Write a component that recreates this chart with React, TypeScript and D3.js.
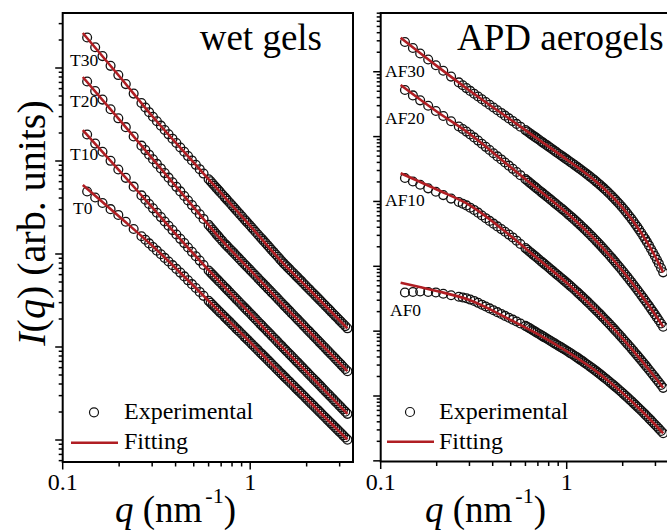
import React from 'react';
import * as d3 from 'd3';

// Scattering vector grid of the experimental points (nm^-1)
const Q_EXP = [0.135, 0.149, 0.163, 0.18, 0.198, 0.217, 0.239, 0.263,
  0.276, 0.289, 0.303, 0.318, 0.334, 0.35, 0.367, 0.385, 0.404, 0.424, 0.445, 0.466, 0.489, 0.513, 0.538, 0.564,
  0.6,
  0.615, 0.63, 0.645, 0.66, 0.675, 0.69, 0.71, 0.73, 0.745, 0.76, 0.78, 0.8, 0.82, 0.84, 0.86, 0.88, 0.905, 0.93, 0.95, 0.97,
  0.995, 1.02, 1.045, 1.07, 1.1, 1.13, 1.155, 1.18, 1.21, 1.24, 1.27, 1.3, 1.335, 1.37, 1.405, 1.44, 1.475, 1.51, 1.545, 1.58,
  1.62, 1.66, 1.705, 1.75, 1.79, 1.83, 1.875, 1.92, 1.97, 2.02, 2.07, 2.12, 2.175, 2.23, 2.285, 2.34, 2.395, 2.45, 2.515, 2.58,
  2.64, 2.7, 2.77, 2.84, 2.91, 2.98, 3.055, 3.13, 3.215, 3.3];
// q values of the fitted curves (nm^-1)
const Q_FIT = [0.128, 0.2, 0.3, 0.5, 0.7, 1, 1.5, 2, 2.5, 3, 3.3];

// Wet gels: log10 I(q) (arb. units)
const T30_EXP = [4.328, 4.223, 4.128, 4.023, 3.924, 3.827, 3.725, 3.624,
  3.575, 3.525, 3.476, 3.427, 3.380, 3.333, 3.287, 3.240, 3.193, 3.145, 3.099, 3.053, 3.006, 2.959, 2.912, 2.865,
  2.804,
  2.781, 2.757, 2.734, 2.711, 2.690, 2.668, 2.640, 2.612, 2.593, 2.573, 2.548, 2.523, 2.499, 2.474, 2.452, 2.429, 2.402, 2.374, 2.354, 2.333,
  2.309, 2.284, 2.261, 2.237, 2.210, 2.183, 2.162, 2.141, 2.117, 2.092, 2.069, 2.045, 2.020, 1.995, 1.970, 1.945, 1.922, 1.899, 1.879, 1.859,
  1.837, 1.815, 1.792, 1.768, 1.749, 1.729, 1.708, 1.686, 1.663, 1.640, 1.619, 1.597, 1.575, 1.552, 1.531, 1.510, 1.489, 1.468, 1.445, 1.422,
  1.402, 1.381, 1.358, 1.335, 1.314, 1.292, 1.270, 1.248, 1.225, 1.201];
const T20_EXP = [3.855, 3.752, 3.660, 3.557, 3.459, 3.364, 3.264, 3.165,
  3.117, 3.068, 3.019, 2.969, 2.920, 2.870, 2.821, 2.771, 2.722, 2.673, 2.624, 2.575, 2.526, 2.476, 2.427, 2.377,
  2.313,
  2.288, 2.263, 2.239, 2.214, 2.192, 2.169, 2.141, 2.113, 2.095, 2.077, 2.054, 2.031, 2.009, 1.986, 1.965, 1.943, 1.918, 1.893, 1.874, 1.855,
  1.832, 1.809, 1.788, 1.766, 1.741, 1.715, 1.696, 1.676, 1.654, 1.631, 1.610, 1.588, 1.565, 1.541, 1.518, 1.495, 1.473, 1.451, 1.431, 1.410,
  1.388, 1.365, 1.341, 1.317, 1.297, 1.277, 1.255, 1.233, 1.210, 1.186, 1.165, 1.143, 1.120, 1.097, 1.075, 1.053, 1.032, 1.011, 0.988, 0.964,
  0.943, 0.922, 0.900, 0.877, 0.855, 0.833, 0.811, 0.788, 0.764, 0.740];
const T10_EXP = [3.285, 3.187, 3.100, 3.002, 2.909, 2.819, 2.724, 2.630,
  2.584, 2.538, 2.491, 2.444, 2.397, 2.350, 2.304, 2.257, 2.210, 2.163, 2.117, 2.070, 2.023, 1.976, 1.929, 1.882,
  1.822,
  1.800, 1.778, 1.757, 1.736, 1.716, 1.696, 1.671, 1.645, 1.627, 1.609, 1.586, 1.562, 1.540, 1.518, 1.497, 1.476, 1.451, 1.426, 1.407, 1.388,
  1.366, 1.343, 1.321, 1.299, 1.274, 1.249, 1.230, 1.210, 1.188, 1.166, 1.145, 1.123, 1.100, 1.076, 1.053, 1.030, 1.009, 0.987, 0.967, 0.946,
  0.924, 0.902, 0.878, 0.854, 0.834, 0.814, 0.792, 0.770, 0.747, 0.724, 0.702, 0.680, 0.658, 0.635, 0.614, 0.592, 0.571, 0.549, 0.526, 0.503,
  0.483, 0.462, 0.439, 0.416, 0.395, 0.373, 0.351, 0.328, 0.305, 0.281];
const T0_EXP = [2.672, 2.607, 2.548, 2.482, 2.420, 2.347, 2.269, 2.191,
  2.153, 2.114, 2.075, 2.036, 1.997, 1.958, 1.919, 1.880, 1.840, 1.800, 1.759, 1.717, 1.676, 1.634, 1.592, 1.550,
  1.496,
  1.475, 1.453, 1.433, 1.412, 1.393, 1.373, 1.349, 1.324, 1.307, 1.289, 1.267, 1.244, 1.223, 1.201, 1.181, 1.161, 1.137, 1.112, 1.094, 1.076,
  1.054, 1.031, 1.011, 0.990, 0.966, 0.941, 0.923, 0.904, 0.883, 0.861, 0.840, 0.819, 0.796, 0.773, 0.751, 0.729, 0.708, 0.687, 0.668, 0.648,
  0.627, 0.605, 0.582, 0.558, 0.539, 0.520, 0.499, 0.478, 0.456, 0.433, 0.412, 0.391, 0.369, 0.347, 0.326, 0.305, 0.285, 0.264, 0.242, 0.219,
  0.199, 0.179, 0.157, 0.135, 0.114, 0.093, 0.072, 0.050, 0.027, 0.004];
const T30_FIT = [4.376, 3.914, 3.484, 2.982, 2.654, 2.303, 1.900, 1.648, 1.449, 1.285, 1.201];
const T20_FIT = [3.903, 3.448, 3.029, 2.501, 2.155, 1.827, 1.453, 1.197, 0.992, 0.827, 0.740];
const T10_FIT = [3.333, 2.900, 2.501, 2.000, 1.684, 1.360, 0.988, 0.733, 0.531, 0.366, 0.280];
const T0_FIT = [2.742, 2.403, 2.090, 1.656, 1.363, 1.051, 0.690, 0.444, 0.246, 0.088, 0.005];

// APD aerogels: log10 I(q) (arb. units)
const AF30_EXP = [5.459, 5.366, 5.282, 5.189, 5.100, 5.015, 4.925, 4.836,
  4.792, 4.748, 4.705, 4.661, 4.619, 4.576, 4.534, 4.491, 4.449, 4.406, 4.365, 4.323, 4.281, 4.239, 4.196, 4.153,
  4.100,
  4.078, 4.056, 4.035, 4.014, 3.995, 3.976, 3.951, 3.925, 3.908, 3.890, 3.868, 3.846, 3.824, 3.802, 3.781, 3.760, 3.736, 3.712, 3.694, 3.675,
  3.652, 3.631, 3.609, 3.589, 3.564, 3.540, 3.520, 3.500, 3.477, 3.454, 3.432, 3.409, 3.383, 3.357, 3.332, 3.306, 3.281, 3.256, 3.231, 3.205,
  3.177, 3.148, 3.115, 3.083, 3.054, 3.025, 2.992, 2.960, 2.923, 2.887, 2.850, 2.813, 2.772, 2.732, 2.690, 2.649, 2.608, 2.566, 2.517, 2.467,
  2.422, 2.376, 2.322, 2.267, 2.213, 2.159, 2.100, 2.041, 1.974, 1.907];
const AF20_EXP = [4.719, 4.635, 4.559, 4.476, 4.395, 4.318, 4.237, 4.156,
  4.117, 4.077, 4.033, 3.988, 3.939, 3.890, 3.842, 3.793, 3.744, 3.695, 3.648, 3.600, 3.552, 3.503, 3.454, 3.405,
  3.344,
  3.319, 3.294, 3.270, 3.246, 3.224, 3.202, 3.173, 3.144, 3.124, 3.104, 3.079, 3.053, 3.028, 3.003, 2.979, 2.955, 2.927, 2.899, 2.878, 2.857,
  2.830, 2.801, 2.775, 2.750, 2.719, 2.689, 2.664, 2.639, 2.610, 2.580, 2.552, 2.523, 2.490, 2.457, 2.425, 2.393, 2.362, 2.331, 2.300, 2.269,
  2.235, 2.201, 2.163, 2.126, 2.093, 2.060, 2.024, 1.989, 1.950, 1.911, 1.873, 1.836, 1.795, 1.755, 1.716, 1.677, 1.638, 1.600, 1.556, 1.513,
  1.473, 1.434, 1.389, 1.344, 1.301, 1.258, 1.212, 1.168, 1.118, 1.069];
const AF10_EXP = [3.362, 3.307, 3.257, 3.202, 3.149, 3.098, 3.044, 2.991,
  2.965, 2.939, 2.904, 2.869, 2.827, 2.784, 2.742, 2.700, 2.658, 2.615, 2.574, 2.532, 2.489, 2.445, 2.395, 2.344,
  2.281,
  2.255, 2.229, 2.205, 2.180, 2.158, 2.135, 2.105, 2.075, 2.055, 2.034, 2.008, 1.981, 1.955, 1.929, 1.905, 1.880, 1.852, 1.823, 1.801, 1.779,
  1.752, 1.726, 1.699, 1.673, 1.642, 1.611, 1.586, 1.561, 1.532, 1.503, 1.475, 1.447, 1.415, 1.383, 1.352, 1.321, 1.291, 1.262, 1.232, 1.203,
  1.171, 1.139, 1.104, 1.069, 1.038, 1.008, 0.975, 0.943, 0.907, 0.872, 0.837, 0.803, 0.767, 0.731, 0.695, 0.660, 0.626, 0.592, 0.553, 0.514,
  0.479, 0.445, 0.405, 0.366, 0.328, 0.290, 0.251, 0.212, 0.169, 0.126];
const AF0_EXP = [1.596, 1.604, 1.611, 1.604, 1.597, 1.577, 1.553, 1.530,
  1.519, 1.507, 1.487, 1.466, 1.437, 1.408, 1.380, 1.351, 1.322, 1.293, 1.264, 1.235, 1.206, 1.177, 1.148, 1.118,
  1.081,
  1.064, 1.047, 1.029, 1.011, 0.995, 0.978, 0.957, 0.935, 0.920, 0.905, 0.886, 0.867, 0.848, 0.829, 0.812, 0.794, 0.774, 0.753, 0.737, 0.721,
  0.702, 0.682, 0.662, 0.644, 0.621, 0.599, 0.581, 0.562, 0.541, 0.519, 0.498, 0.478, 0.453, 0.430, 0.406, 0.383, 0.360, 0.337, 0.315, 0.292,
  0.267, 0.243, 0.215, 0.188, 0.164, 0.141, 0.115, 0.089, 0.061, 0.033, 0.005, -0.022, -0.051, -0.080, -0.109, -0.137, -0.165, -0.192, -0.224, -0.255,
  -0.284, -0.312, -0.344, -0.376, -0.408, -0.439, -0.471, -0.504, -0.540, -0.575];
const AF30_FIT = [5.525, 5.091, 4.712, 4.260, 3.963, 3.647, 3.262, 2.901, 2.529, 2.144, 1.907];
const AF20_FIT = [4.796, 4.387, 4.045, 3.528, 3.187, 2.825, 2.339, 1.927, 1.567, 1.247, 1.069];
const AF10_FIT = [3.434, 3.184, 2.945, 2.467, 2.115, 1.746, 1.269, 0.886, 0.562, 0.281, 0.126];
const AF0_FIT = [1.747, 1.619, 1.480, 1.172, 0.955, 0.690, 0.343, 0.044, -0.216, -0.447, -0.575];

const WET_LABELS = ['T30', 'T20', 'T10', 'T0'];
const APD_LABELS = ['AF30', 'AF20', 'AF10', 'AF0'];
const PANEL_TITLES = ['wet gels', 'APD aerogels'];
const LEGEND_LABELS = ['Experimental', 'Fitting'];
const X_TICK_VALUES = [0.1, 1];
const X_TICK_LABELS = ['0.1', '1'];

const FONT = '"Liberation Serif", "Times New Roman", Times, serif';
const RED = '#b01e23';
const INK = '#111';

type Series = { label: string; exp: number[]; fit: number[]; lx: number; ly: number };
type PanelCfg = {
  x0: number; dec: number; width: number; top: number; bottom: number; yBase: number; yDec: number;
  title: string; titleX: number; titleY: number; titleAnchor: 'start' | 'end';
  series: Series[];
  legend: { cx: number; cy: number; l1: number; l2: number; ly: number; tx: number; t1y: number; t2y: number };
  xTitleX: number;
};

const PANELS: PanelCfg[] = [
  {
    x0: 62.7, dec: 187.5, width: 290.3, top: 13, bottom: 462, yBase: 440, yDec: 93,
    title: PANEL_TITLES[0], titleX: 322, titleY: 50, titleAnchor: 'end',
    series: [
      { label: WET_LABELS[0], exp: T30_EXP, fit: T30_FIT, lx: 70, ly: 66 },
      { label: WET_LABELS[1], exp: T20_EXP, fit: T20_FIT, lx: 70, ly: 107 },
      { label: WET_LABELS[2], exp: T10_EXP, fit: T10_FIT, lx: 70, ly: 160 },
      { label: WET_LABELS[3], exp: T0_EXP, fit: T0_FIT, lx: 73, ly: 214 },
    ],
    legend: { cx: 94, cy: 412.3, l1: 71, l2: 118, ly: 442.7, tx: 124, t1y: 419, t2y: 449 },
    xTitleX: 115,
  },
  {
    x0: 380.7, dec: 186, width: 290, top: 13, bottom: 461.5, yBase: 396, yDec: 64.85,
    title: PANEL_TITLES[1], titleX: 457, titleY: 49.5, titleAnchor: 'start',
    series: [
      { label: APD_LABELS[0], exp: AF30_EXP, fit: AF30_FIT, lx: 385, ly: 77 },
      { label: APD_LABELS[1], exp: AF20_EXP, fit: AF20_FIT, lx: 385, ly: 124 },
      { label: APD_LABELS[2], exp: AF10_EXP, fit: AF10_FIT, lx: 385, ly: 206 },
      { label: APD_LABELS[3], exp: AF0_EXP, fit: AF0_FIT, lx: 390, ly: 316 },
    ],
    legend: { cx: 410, cy: 412, l1: 387, l2: 434, ly: 441.7, tx: 439, t1y: 418.5, t2y: 448.5 },
    xTitleX: 425,
  },
];

const isDecade = (v: number) => Math.abs(Math.log10(v) - Math.round(Math.log10(v))) < 1e-6;

function Panel({ p }: { p: PanelCfg }) {
  const x = d3.scaleLog().domain([0.1, 1]).range([p.x0, p.x0 + p.dec]);
  const y = d3.scaleLog().domain([1, 10]).range([p.yBase, p.yBase - p.yDec]);
  const right = p.x0 + p.width;
  const xTicks = x.copy().domain([0.1, x.invert(right)]).ticks();
  const yTicks = y.copy().domain([y.invert(p.bottom), y.invert(p.top)]).ticks();
  const line = d3.line<[number, number]>()
    .x(d => x(d[0]))
    .y(d => y(Math.pow(10, d[1])))
    .curve(d3.curveMonotoneX);

  return (
    <g>
      {/* experimental points */}
      {p.series.map((s, si) => {
        const n = Math.min(Q_EXP.length, s.exp.length);
        return (
          <g key={'c' + si} fill="none" stroke={INK} strokeWidth={1.3}>
            {s.exp.slice(0, n).map((v, i) => (
              <circle key={i} cx={x(Q_EXP[i])} cy={y(Math.pow(10, v))} r={4.4} />
            ))}
          </g>
        );
      })}
      {/* fitted curves */}
      {p.series.map((s, si) => (
        <path key={'f' + si} d={line(Q_FIT.map((q, i) => [q, s.fit[i]]) as [number, number][]) || ''}
          fill="none" stroke={RED} strokeWidth={2.6} />
      ))}
      {/* frame */}
      <rect x={p.x0} y={p.top} width={p.width} height={p.bottom - p.top} fill="none" stroke="#000" strokeWidth={2} />
      {/* y ticks */}
      {yTicks.map((v, i) => {
        const yy = y(v);
        const len = isDecade(v) ? 7.5 : 4;
        return <line key={'yt' + i} x1={p.x0 - len} x2={p.x0} y1={yy} y2={yy} stroke="#000" strokeWidth={1.5} />;
      })}
      {/* x ticks */}
      {xTicks.map((v, i) => {
        const xx = x(v);
        const len = isDecade(v) ? 7.5 : 4.5;
        return <line key={'xt' + i} x1={xx} x2={xx} y1={p.bottom} y2={p.bottom + len} stroke="#000" strokeWidth={1.5} />;
      })}
      {X_TICK_VALUES.map((v, i) => (
        <text key={'xl' + i} x={x(v)} y={490} textAnchor="middle" fontSize={24} fontFamily={FONT} fill="#000">
          {X_TICK_LABELS[i]}
        </text>
      ))}
      {/* x title */}
      <text x={p.xTitleX} y={522} fontSize={37} fontFamily={FONT} fill="#000">
        <tspan fontStyle="italic">q</tspan>
        <tspan> (nm</tspan>
        <tspan fontSize={22} dx={3} dy={-19}>-1</tspan>
        <tspan dy={19}>)</tspan>
      </text>
      {/* panel title */}
      <text x={p.titleX} y={p.titleY} textAnchor={p.titleAnchor} fontSize={37} fontFamily={FONT} fill="#000">{p.title}</text>
      {/* curve labels */}
      {p.series.map((s, si) => (
        <text key={'l' + si} x={s.lx} y={s.ly} fontSize={17.5} fontFamily={FONT} fill="#000">{s.label}</text>
      ))}
      {/* legend */}
      <circle cx={p.legend.cx} cy={p.legend.cy} r={4.5} fill="none" stroke={INK} strokeWidth={1.2} />
      <line x1={p.legend.l1} x2={p.legend.l2} y1={p.legend.ly} y2={p.legend.ly} stroke={RED} strokeWidth={2.6} />
      <text x={p.legend.tx} y={p.legend.t1y} fontSize={24} fontFamily={FONT} fill="#000">{LEGEND_LABELS[0]}</text>
      <text x={p.legend.tx} y={p.legend.t2y} fontSize={24} fontFamily={FONT} fill="#000">{LEGEND_LABELS[1]}</text>
    </g>
  );
}

export default function App() {
  return (
    <svg width={667} height={530} viewBox="0 0 667 530"
      style={{ position: 'absolute', left: 0, top: 0, display: 'block', background: '#fff' }}>
      <rect x={0} y={0} width={667} height={530} fill="#fff" />
      {PANELS.map((p, i) => <Panel key={i} p={p} />)}
      <text transform="translate(45,223) rotate(-90)" textAnchor="middle" fontSize={40} fontFamily={FONT} fill="#000">
        <tspan fontStyle="italic">I</tspan>
        <tspan>(</tspan>
        <tspan fontStyle="italic">q</tspan>
        <tspan>) (arb. units)</tspan>
      </text>
    </svg>
  );
}
